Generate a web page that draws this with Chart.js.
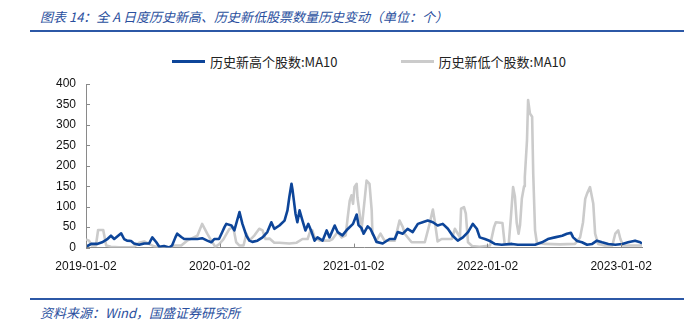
<!DOCTYPE html>
<html lang="zh-CN">
<head>
<meta charset="UTF-8">
<title>全A日度历史新高、历史新低股票数量</title>
<script src="https://cdn.jsdelivr.net/npm/chart.js"></script>
<style>
  body {
    margin: 0;
    width: 685px;
    height: 327px;
    position: relative;
    overflow: hidden;
    background: #fff;
    font-family: "Noto Sans CJK SC", sans-serif;
  }
  .title, .source {
    position: absolute;
    left: 40px;
    font-size: 13px;
    font-style: italic;
    color: #2a4f9e;
    white-space: nowrap;
    line-height: 16px;
  }
  .title { top: 9px; }
  .source { top: 305px; }
  .rule {
    position: absolute;
    left: 30px;
    width: 654px;
    height: 2px;
    background: #2c58a6;
  }
  #legend {
    position: absolute;
    top: 52px;
    left: 172px;
    display: flex;
    align-items: center;
    font-size: 13px;
    color: #222;
    white-space: nowrap;
  }
  #legend .item { display: flex; align-items: center; margin-right: 63px; }
  #legend .bar { width: 33px; height: 3px; margin-right: 5px; }
  #chartBox {
    position: absolute;
    left: 0;
    top: 36px;
    width: 685px;
    height: 250px;
  }
</style>
</head>
<body>
<div class="title">图表 14：全 A 日度历史新高、历史新低股票数量历史变动（单位：个）</div>
<div class="rule" style="top:30px"></div>
<div id="legend"></div>
<div id="chartBox"><canvas id="chart"></canvas></div>
<div class="rule" style="top:298px"></div>
<div class="source">资料来源：Wind，国盛证券研究所</div>

<script>
// 历史新高个股数 MA10
const highDates = [
  '2019-01-02','2019-01-16','2019-02-01','2019-02-15','2019-02-28','2019-03-11','2019-03-20','2019-04-08',
  '2019-04-16','2019-04-24','2019-05-05','2019-05-13','2019-05-27','2019-06-10','2019-06-23','2019-07-02',
  '2019-07-13','2019-07-21','2019-08-03','2019-08-17','2019-08-25','2019-09-03','2019-09-08','2019-09-19',
  '2019-09-27','2019-10-16','2019-11-02','2019-11-15','2019-11-29','2019-12-10','2019-12-18','2019-12-31',
  '2020-01-09','2020-01-15','2020-01-20','2020-02-03','2020-02-11','2020-02-25','2020-03-04','2020-03-15',
  '2020-03-23','2020-03-31','2020-04-14','2020-04-28','2020-05-11','2020-05-22','2020-05-30','2020-06-13',
  '2020-06-27','2020-07-05','2020-07-10','2020-07-16','2020-07-19','2020-07-27','2020-08-01','2020-08-07',
  '2020-08-15','2020-08-23','2020-08-31','2020-09-09','2020-09-17','2020-09-25','2020-10-09','2020-10-20',
  '2020-10-28','2020-11-11','2020-11-19','2020-12-02','2020-12-16','2020-12-31','2021-01-10','2021-01-15',
  '2021-01-23','2021-01-29','2021-02-09','2021-02-17','2021-02-25','2021-03-05','2021-03-22','2021-04-10',
  '2021-04-24','2021-05-02','2021-05-16','2021-05-29','2021-06-12','2021-06-26','2021-07-09','2021-07-23',
  '2021-08-06','2021-08-19','2021-09-02','2021-09-16','2021-09-29','2021-10-13','2021-10-27','2021-11-10',
  '2021-11-23','2021-12-04','2021-12-12','2021-12-26','2022-01-09','2022-01-22','2022-02-10','2022-03-10',
  '2022-03-26','2022-04-23','2022-05-12','2022-05-31','2022-06-16','2022-07-05','2022-07-25','2022-08-07',
  '2022-08-18','2022-08-24','2022-09-04','2022-09-17','2022-10-01','2022-10-15','2022-10-28','2022-11-11',
  '2022-11-28','2022-12-17','2023-01-05','2023-01-21','2023-02-09','2023-02-23','2023-02-28'
];
const highValues = [
  2, 9, 9, 13, 20, 29, 21, 35,
  21, 17, 16, 10, 7, 10, 10, 25,
  13, 2, 4, 0, 5, 25, 34, 26,
  21, 21, 21, 23, 17, 13, 21, 21,
  38, 50, 58, 54, 42, 87, 58, 29,
  17, 14, 17, 25, 38, 62, 46, 54,
  66, 91, 123, 156, 140, 83, 62, 91,
  66, 42, 58, 38, 17, 25, 17, 42,
  25, 54, 38, 30, 45, 58, 81, 55,
  48, 34, 52, 45, 30, 14, 10, 21,
  21, 38, 34, 46, 38, 58, 62, 66,
  62, 54, 58, 46, 29, 17, 25, 38,
  58, 46, 25, 21, 16, 9, 7, 9,
  7, 7, 7, 13, 21, 25, 29, 34,
  36, 25, 16, 13, 7, 9, 17, 13,
  9, 7, 9, 13, 17, 13, 10
];

// 历史新低个股数 MA10
const lowDates = [
  '2019-01-02','2019-01-10','2019-01-18','2019-01-29','2019-02-04','2019-02-18','2019-02-26','2019-03-11',
  '2019-04-02','2019-04-30','2019-05-13','2019-05-27','2019-06-10','2019-06-23','2019-07-07','2019-07-21',
  '2019-08-17','2019-08-31','2019-09-19','2019-10-05','2019-11-02','2019-11-15','2019-11-29','2019-12-10',
  '2019-12-21','2019-12-31','2020-01-12','2020-01-28','2020-02-08','2020-02-16','2020-02-25','2020-03-07',
  '2020-03-15','2020-03-23','2020-04-06','2020-04-19','2020-04-28','2020-05-06','2020-05-17','2020-05-30',
  '2020-06-13','2020-07-10','2020-07-30','2020-08-15','2020-08-29','2020-09-06','2020-09-11','2020-09-17',
  '2020-10-01','2020-10-28','2020-11-05','2020-11-19','2020-11-30','2020-12-11','2020-12-16','2020-12-22',
  '2020-12-27','2020-12-31','2021-01-04','2021-01-10','2021-01-12','2021-01-18','2021-01-23','2021-02-01',
  '2021-02-06','2021-02-14','2021-02-20','2021-02-22','2021-03-05','2021-03-16','2021-03-27','2021-04-24',
  '2021-05-07','2021-05-16','2021-05-21','2021-06-09','2021-07-15','2021-07-28','2021-08-06','2021-08-11',
  '2021-08-19','2021-08-30','2021-09-27','2021-10-05','2021-10-19','2021-10-22','2021-10-30','2021-11-04',
  '2021-11-10','2021-11-21','2021-12-12','2022-01-09','2022-01-20','2022-01-25','2022-02-12','2022-02-18',
  '2022-03-01','2022-03-07','2022-03-13','2022-03-18','2022-03-23','2022-03-28','2022-04-01','2022-04-06',
  '2022-04-12','2022-04-14','2022-04-20','2022-04-23','2022-04-28','2022-05-04','2022-05-07','2022-05-12',
  '2022-05-17','2022-06-08','2022-07-19','2022-08-29','2022-09-12','2022-09-20','2022-09-26','2022-10-01',
  '2022-10-09','2022-10-18','2022-10-23','2022-10-31','2022-11-19','2022-12-09','2022-12-17','2022-12-25',
  '2022-12-31','2023-01-07','2023-01-27','2023-02-28'
];
const lowValues = [
  20, 17, 5, 5, 43, 43, 5, 2,
  1, 1, 2, 12, 15, 9, 3, 1,
  1, 5, 5, 17, 29, 58, 34, 17,
  2, 8, 20, 45, 50, 13, 5, 5,
  34, 17, 30, 46, 42, 21, 22, 12,
  12, 10, 12, 21, 21, 42, 42, 25,
  17, 17, 21, 38, 25, 30, 70, 115,
  128, 107, 148, 156, 123, 83, 42, 120,
  164, 156, 91, 34, 17, 34, 17, 17,
  66, 50, 34, 13, 13, 58, 93, 66,
  15, 21, 21, 46, 25, 95, 99, 83,
  13, 4, 2, 5, 50, 62, 60, 9,
  8, 74, 148, 125, 60, 34, 55, 120,
  150, 172, 262, 361, 328, 320, 181, 42,
  12, 9, 8, 9, 25, 62, 119, 132,
  148, 107, 34, 9, 5, 5, 34, 42,
  21, 5, 5, 5
];

const xTickDates = ['2019-01-02', '2020-01-02', '2021-01-02', '2022-01-02', '2023-01-02'];
const xEndDate = '2023-02-28';
const yMax = 400;
const yStep = 50;

const seriesNames = ['历史新高个股数:MA10', '历史新低个股数:MA10'];
const seriesColors = ['#0d4599', '#cbcbcb'];

const day0 = Date.parse(xTickDates[0]);
const dayNo = s => Math.round((Date.parse(s) - day0) / 86400000);
const toPoints = (dates, values) => dates.map((d, i) => ({ x: dayNo(d), y: values[i] }));

// small tick marks drawn inward from the axis lines
const innerTicks = {
  id: 'innerTicks',
  afterDatasetsDraw(chart) {
    const { ctx, chartArea, scales } = chart;
    ctx.save();
    ctx.strokeStyle = '#8a8a8a';
    ctx.lineWidth = 1;
    ctx.beginPath();
    scales.y.ticks.forEach(t => {
      const py = Math.round(scales.y.getPixelForValue(t.value)) + 0.5;
      ctx.moveTo(chartArea.left, py);
      ctx.lineTo(chartArea.left + 4, py);
    });
    scales.x.ticks.forEach(t => {
      const px = Math.round(scales.x.getPixelForValue(t.value)) + 0.5;
      ctx.moveTo(px, chartArea.bottom);
      ctx.lineTo(px, chartArea.bottom - 4);
    });
    ctx.stroke();
    ctx.restore();
  }
};

const chart = new Chart(document.getElementById('chart'), {
  type: 'line',
  data: {
    datasets: [
      { label: seriesNames[0], data: toPoints(highDates, highValues), borderColor: seriesColors[0], borderWidth: 2.6 },
      { label: seriesNames[1], data: toPoints(lowDates, lowValues), borderColor: seriesColors[1], borderWidth: 2.6 }
    ]
  },
  options: {
    responsive: true,
    maintainAspectRatio: false,
    animation: false,
    layout: { padding: { left: 46, right: 43, top: 48, bottom: 0 } },
    elements: { point: { radius: 0 }, line: { tension: 0, borderJoinStyle: 'round' } },
    plugins: { legend: { display: false }, tooltip: { enabled: false } },
    scales: {
      x: {
        type: 'linear',
        min: 0,
        max: dayNo(xEndDate),
        grid: { display: false, drawTicks: false },
        border: { display: true, color: '#8a8a8a', width: 1 },
        afterBuildTicks: scale => { scale.ticks = xTickDates.map(d => ({ value: dayNo(d) })); },
        ticks: {
          autoSkip: false,
          maxRotation: 0,
          padding: 12,
          color: '#111',
          font: { family: 'Liberation Sans', size: 12 },
          callback: v => xTickDates.find(d => dayNo(d) === v) || ''
        }
      },
      y: {
        min: 0,
        max: yMax,
        grid: { display: false, drawTicks: false },
        border: { display: true, color: '#8a8a8a', width: 1 },
        ticks: {
          stepSize: yStep,
          padding: 10,
          color: '#111',
          font: { family: 'Liberation Sans', size: 12 }
        }
      }
    }
  },
  plugins: [innerTicks]
});

// legend built from the chart's datasets
const legend = document.getElementById('legend');
chart.data.datasets.forEach(ds => {
  const item = document.createElement('div');
  item.className = 'item';
  const bar = document.createElement('span');
  bar.className = 'bar';
  bar.style.background = ds.borderColor;
  const label = document.createElement('span');
  label.textContent = ds.label;
  item.append(bar, label);
  legend.append(item);
});
</script>
</body>
</html>
